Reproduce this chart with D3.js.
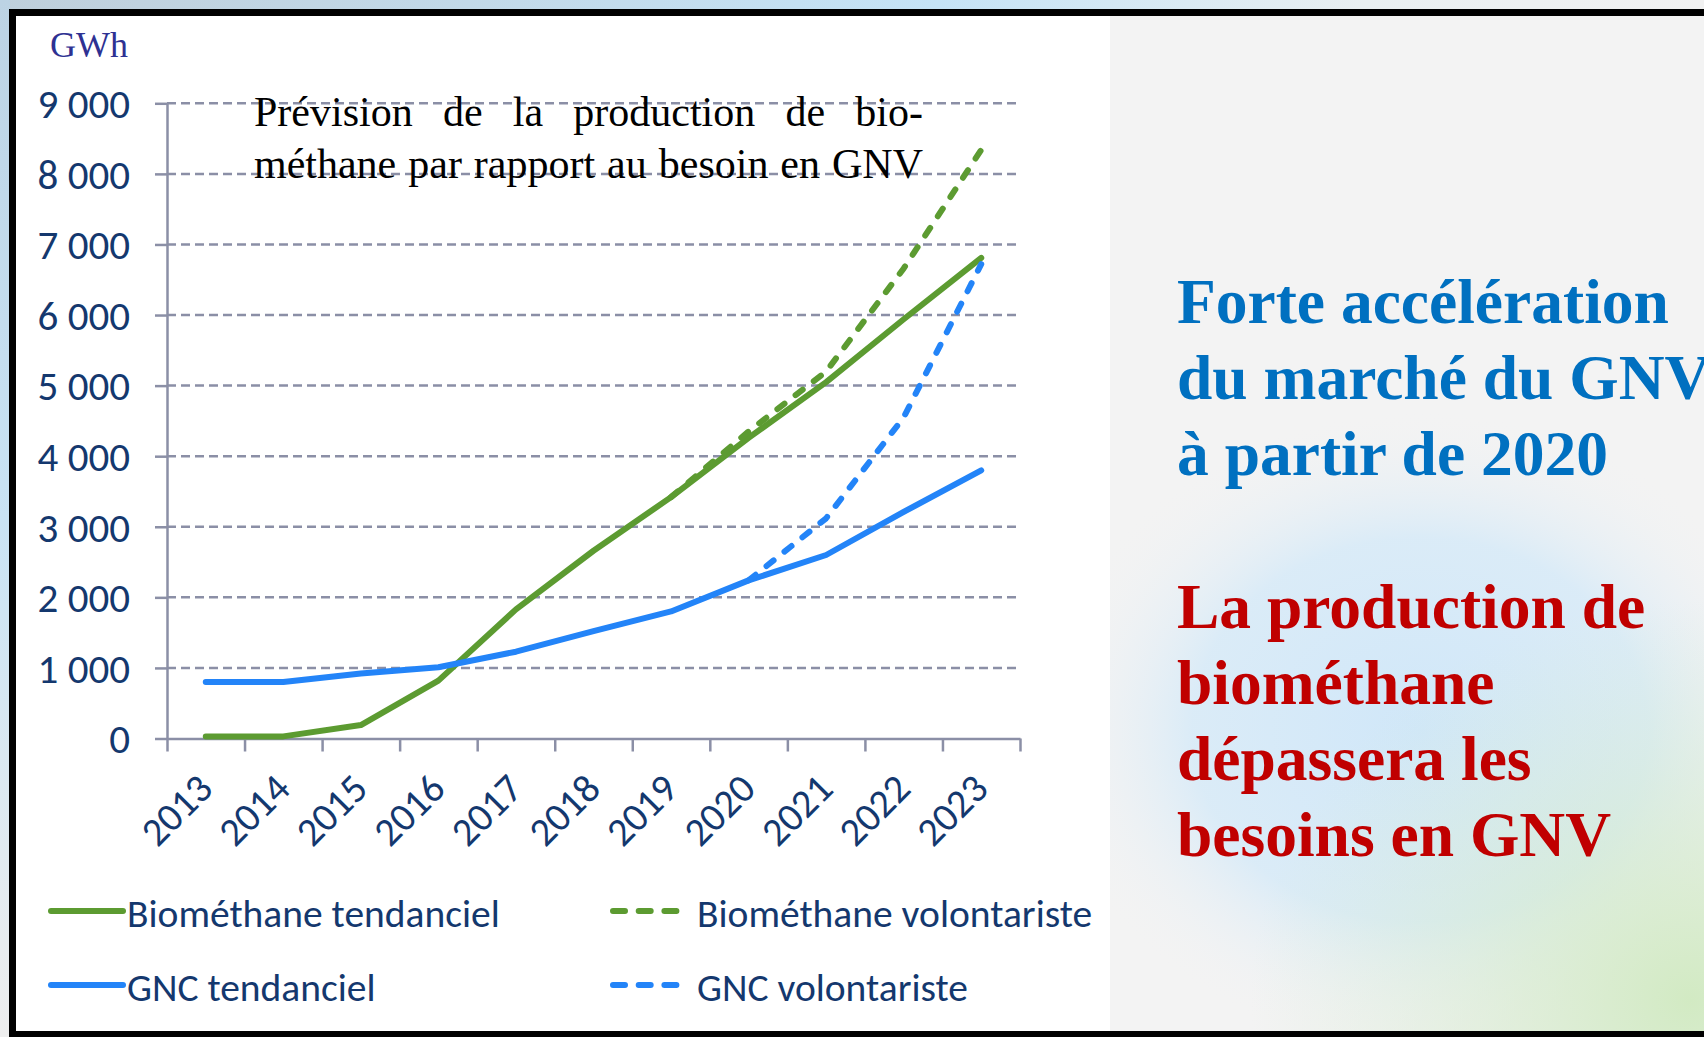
<!DOCTYPE html>
<html>
<head>
<meta charset="utf-8">
<script src="https://cdn.jsdelivr.net/npm/d3@7"></script>
<style>
  body { margin: 0; overflow: hidden; background: #fff; }
</style>
</head>
<body>
<svg id="chart" width="1704" height="1037"></svg>
<script>
// data (GWh)
var years = ["2013", "2014", "2015", "2016", "2017", "2018", "2019", "2020", "2021", "2022", "2023"];
var bioTendanciel   = [30, 30, 190, 820, 1830, 2660, 3420, 4260, 5050, 5940, 6810];
var bioVolontariste = [null, null, null, null, null, null, 3420, 4350, 5200, 6660, 8340];
var gncTendanciel   = [800, 800, 920, 1010, 1230, 1520, 1800, 2240, 2600, 3210, 3800];
var gncVolontariste = [null, null, null, null, null, null, null, 2240, 3120, 4550, 6720];
var yTicks = [0, 1000, 2000, 3000, 4000, 5000, 6000, 7000, 8000, 9000];

var seriesNames  = ["Biométhane tendanciel", "Biométhane volontariste", "GNC tendanciel", "GNC volontariste"];
var seriesColors = ["#5c9b31", "#5c9b31", "#2384f8", "#2384f8"];
var seriesDashed = [false, true, false, true];
var seriesValues = [bioTendanciel, bioVolontariste, gncTendanciel, gncVolontariste];

var titleLines = [
  ["Prévision", "de", "la", "production", "de", "bio-"],
  ["méthane", "par", "rapport", "au", "besoin", "en", "GNV"]
];
var blueNote = ["Forte accélération", "du marché du GNV", "à partir de 2020"];
var redNote  = ["La production de", "biométhane", "dépassera les", "besoins en GNV"];

var sansFont  = "Carlito, 'Liberation Sans Narrow', 'Arial Narrow', 'Open Sans', sans-serif";
var serifFont = "'Liberation Serif', 'Times New Roman', serif";
var axisColor = "#8b8fa6";
var labelColor = "#14386e";

var svg = d3.select("#chart");
var defs = svg.append("defs");

// ---------- slide background ----------
var topGrad = defs.append("linearGradient").attr("id", "topGrad");
topGrad.append("stop").attr("offset", "0").attr("stop-color", "#bfcfdb");
topGrad.append("stop").attr("offset", "0.55").attr("stop-color", "#c5e3f6");
topGrad.append("stop").attr("offset", "0.8").attr("stop-color", "#e9eff1");
topGrad.append("stop").attr("offset", "1").attr("stop-color", "#f1f1f1");

var leftGrad = defs.append("linearGradient").attr("id", "leftGrad")
    .attr("x1", 0).attr("y1", 0).attr("x2", 0).attr("y2", 1);
leftGrad.append("stop").attr("offset", "0").attr("stop-color", "#bcd3e4");
leftGrad.append("stop").attr("offset", "0.5").attr("stop-color", "#c9e3f4");
leftGrad.append("stop").attr("offset", "1").attr("stop-color", "#eeeeee");

var blueBlob = defs.append("radialGradient").attr("id", "blueBlob");
blueBlob.append("stop").attr("offset", "0").attr("stop-color", "#d0e7f9").attr("stop-opacity", 1);
blueBlob.append("stop").attr("offset", "0.6").attr("stop-color", "#d6eaf8").attr("stop-opacity", 0.85);
blueBlob.append("stop").attr("offset", "1").attr("stop-color", "#f3f3f3").attr("stop-opacity", 0);

var greenBlob = defs.append("radialGradient").attr("id", "greenBlob");
greenBlob.append("stop").attr("offset", "0").attr("stop-color", "#d2eac3").attr("stop-opacity", 1);
greenBlob.append("stop").attr("offset", "1").attr("stop-color", "#d8ecd6").attr("stop-opacity", 0);

svg.append("rect").attr("x", 0).attr("y", 0).attr("width", 1704).attr("height", 1037).attr("fill", "#f0f0f0");
svg.append("rect").attr("x", 0).attr("y", 0).attr("width", 1704).attr("height", 10).attr("fill", "url(#topGrad)");
svg.append("rect").attr("x", 0).attr("y", 0).attr("width", 10).attr("height", 1037).attr("fill", "url(#leftGrad)");

// right panel
svg.append("rect").attr("x", 1110).attr("y", 16).attr("width", 594).attr("height", 1016).attr("fill", "#f3f3f3");
svg.append("ellipse").attr("cx", 1420).attr("cy", 730).attr("rx", 380).attr("ry", 320).attr("fill", "url(#blueBlob)");
svg.append("ellipse").attr("cx", 1690).attr("cy", 1000).attr("rx", 440).attr("ry", 400).attr("fill", "url(#greenBlob)");

// white chart panel
svg.append("rect").attr("x", 16).attr("y", 16).attr("width", 1094).attr("height", 1016).attr("fill", "#ffffff");

// black frame
svg.append("rect").attr("x", 9).attr("y", 9).attr("width", 1695).attr("height", 7).attr("fill", "#000");
svg.append("rect").attr("x", 9).attr("y", 9).attr("width", 7).attr("height", 1028).attr("fill", "#000");
svg.append("rect").attr("x", 9).attr("y", 1031).attr("width", 1695).attr("height", 6).attr("fill", "#000");

// ---------- scales ----------
var x = d3.scaleBand().domain(years).range([167, 1020]).paddingInner(0).paddingOuter(0);
var xEdge = d3.scaleLinear().domain([0, years.length]).range([167, 1020]);
var y = d3.scaleLinear().domain([0, 9000]).range([738.5, 103.3]);
var fr = d3.formatLocale({decimal: ",", thousands: " ", grouping: [3], currency: ["", " €"]});
var fmt = fr.format(",d");

var chart = svg.append("g");

// gridlines
chart.append("g")
    .selectAll("line")
    .data(yTicks.filter(function (d) { return d > 0; }))
    .enter()
    .append("line")
      .attr("x1", 167).attr("x2", 1020)
      .attr("y1", function (d) { return y(d); })
      .attr("y2", function (d) { return y(d); })
      .attr("stroke", axisColor)
      .attr("stroke-width", 2.5)
      .attr("stroke-dasharray", "9 5");

// y axis
var yAxis = chart.append("g")
    .attr("transform", "translate(167,0)")
    .call(d3.axisLeft(y).tickValues(yTicks).tickSize(12).tickSizeOuter(0).tickFormat(""));
yAxis.selectAll("path, line").attr("stroke", axisColor).attr("stroke-width", 2.5);

chart.append("g")
    .selectAll("text")
    .data(yTicks)
    .enter()
    .append("text")
      .attr("x", 130)
      .attr("y", function (d) { return y(d); })
      .attr("dy", "0.36em")
      .attr("text-anchor", "end")
      .style("font-family", sansFont)
      .style("font-size", "41px")
      .style("fill", labelColor)
      .text(function (d) { return fmt(d); });

// x axis (ticks at category edges)
var xAxis = chart.append("g")
    .attr("transform", "translate(0,738.5)")
    .call(d3.axisBottom(xEdge).tickValues(d3.range(years.length + 1)).tickSize(13).tickSizeOuter(0).tickFormat(""));
xAxis.selectAll("path, line").attr("stroke", axisColor).attr("stroke-width", 2.5);

chart.append("g")
    .selectAll("text")
    .data(years)
    .enter()
    .append("text")
      .attr("transform", function (d) {
        return "translate(" + (x(d) + x.bandwidth() / 2 + 9) + ",791) rotate(-45)";
      })
      .attr("text-anchor", "end")
      .style("font-family", sansFont)
      .style("font-size", "40px")
      .style("fill", labelColor)
      .text(function (d) { return d; });

// GWh unit
svg.append("text")
    .attr("x", 50).attr("y", 57)
    .style("font-family", serifFont)
    .style("font-size", "36px")
    .style("fill", "#2e3192")
    .text("GWh");

// ---------- lines ----------
var line = d3.line()
    .defined(function (d) { return d != null; })
    .x(function (d, i) { return x(years[i]) + x.bandwidth() / 2; })
    .y(function (d) { return y(d); });

// draw solid ones first, dashed on top
[0, 2, 1, 3].forEach(function (k) {
  chart.append("path")
      .datum(seriesValues[k])
      .attr("d", line)
      .attr("fill", "none")
      .attr("stroke", seriesColors[k])
      .attr("stroke-width", 6)
      .attr("stroke-linejoin", "round")
      .attr("stroke-linecap", "round")
      .attr("stroke-dasharray", seriesDashed[k] ? "9 14" : null);
});

// ---------- chart title (justified) ----------
var titleLeft = 254, titleRight = 923, titleBase = [126, 178];
titleLines.forEach(function (words, li) {
  var nodes = words.map(function (w) {
    return svg.append("text")
        .attr("y", titleBase[li])
        .style("font-family", serifFont)
        .style("font-size", "42px")
        .style("fill", "#000")
        .text(w);
  });
  var widths = nodes.map(function (n) { return n.node().getComputedTextLength(); });
  var gap = (titleRight - titleLeft - d3.sum(widths)) / (words.length - 1);
  var cx = titleLeft;
  nodes.forEach(function (n, i) {
    n.attr("x", cx);
    cx += widths[i] + gap;
  });
});

// ---------- legend ----------
var legendPos = [[48, 911], [610, 911], [48, 985], [610, 985]];
var legend = svg.append("g")
    .selectAll("g")
    .data(seriesNames)
    .enter()
    .append("g")
      .attr("transform", function (d, i) { return "translate(" + legendPos[i][0] + "," + legendPos[i][1] + ")"; });

legend.append("line")
    .attr("x1", 3)
    .attr("x2", function (d, i) { return seriesDashed[i] ? 67.4 : 75; })
    .attr("stroke", function (d, i) { return seriesColors[i]; })
    .attr("stroke-width", 6)
    .attr("stroke-linecap", "round")
    .attr("stroke-dasharray", function (d, i) { return seriesDashed[i] ? "12 13.7" : null; });

legend.append("text")
    .attr("x", function (d, i) { return seriesDashed[i] ? 87 : 79; })
    .attr("y", 16)
    .style("font-family", sansFont)
    .style("font-size", "39.5px")
    .style("fill", labelColor)
    .text(function (d) { return d; });

// ---------- right-hand notes ----------
svg.append("g")
    .selectAll("text")
    .data(blueNote)
    .enter()
    .append("text")
      .attr("x", 1177)
      .attr("y", function (d, i) { return 323 + i * 76; })
      .style("font-family", serifFont)
      .style("font-weight", "bold")
      .style("font-size", "63.5px")
      .style("fill", "#0070c0")
      .text(function (d) { return d; });

svg.append("g")
    .selectAll("text")
    .data(redNote)
    .enter()
    .append("text")
      .attr("x", 1177)
      .attr("y", function (d, i) { return 628 + i * 76; })
      .style("font-family", serifFont)
      .style("font-weight", "bold")
      .style("font-size", "63.5px")
      .style("fill", "#c00000")
      .text(function (d) { return d; });
</script>
</body>
</html>
